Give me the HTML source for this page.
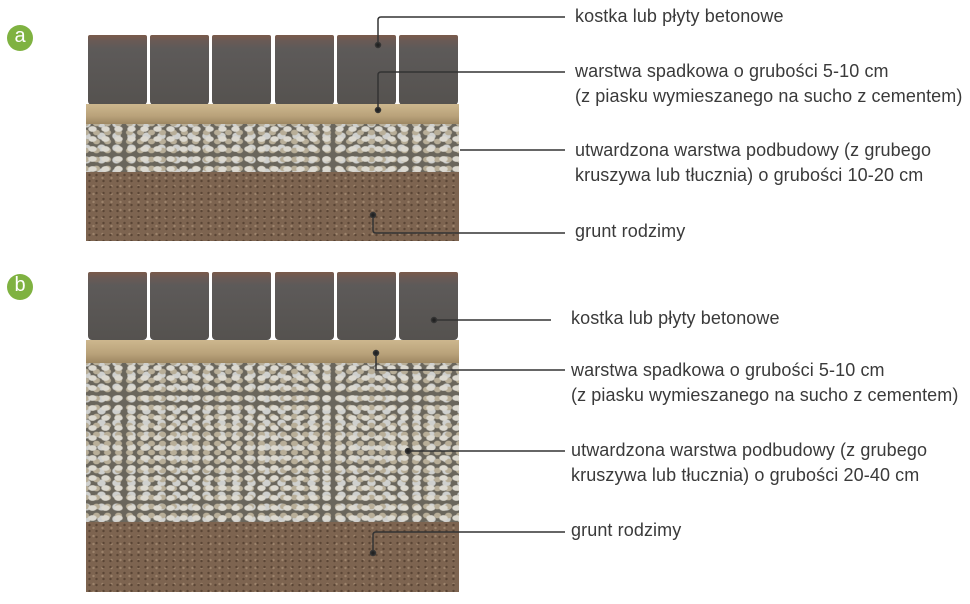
<!DOCTYPE html>
<html><head><meta charset="utf-8"><style>
body{margin:0;background:#fff;width:970px;height:604px;position:relative;overflow:hidden;font-family:"Liberation Sans",sans-serif}
.badge{position:absolute;width:26px;height:26px;border-radius:50%;background:#7fb241;color:#fff;font-size:20px;line-height:23px;text-align:center}
.pav{position:absolute;width:59px;border-radius:2px 2px 4px 4px;background:linear-gradient(#7a5a4a 0,#6a5a55 8%,#5d5a59 20%,#55524f 100%)}
.sand{position:absolute;left:86px;width:373px;background:linear-gradient(#cdb78e,#b9a27a 60%,#9d8762)}
.grav{position:absolute;left:86px;width:373px;background-color:#6a665c;
background-image:radial-gradient(ellipse 6px 4px,#dcd9d0 60%,transparent 80%),radial-gradient(ellipse 5px 4px,#b8ae98 60%,transparent 80%),radial-gradient(ellipse 6px 5px,#cfd0ce 60%,transparent 80%);
background-size:13px 10px,11px 9px,15px 12px;background-position:0 0,5px 4px,8px 6px}
.soil{position:absolute;left:86px;width:373px;background-color:#7d6450;
background-image:radial-gradient(circle 2px,#5a4535 50%,transparent 70%),radial-gradient(circle 2px,#9c836c 50%,transparent 70%);background-size:7px 6px,9px 8px;background-position:0 0,3px 2px}
.t{position:absolute;font-size:18px;color:#3a3a3a;line-height:25px;white-space:nowrap;letter-spacing:0.1px}
svg{position:absolute;left:0;top:0}
</style></head><body>
<div class="badge" style="left:7px;top:25px">a</div>
<div class="badge" style="left:7px;top:274px">b</div>

<div class="pav" style="left:88px;top:35px;height:70px"></div>
<div class="pav" style="left:150px;top:35px;height:70px"></div>
<div class="pav" style="left:212px;top:35px;height:70px"></div>
<div class="pav" style="left:275px;top:35px;height:70px"></div>
<div class="pav" style="left:337px;top:35px;height:70px"></div>
<div class="pav" style="left:399px;top:35px;height:70px"></div>
<div class="sand" style="top:104px;height:20px"></div>
<div class="grav" style="top:124px;height:48px"></div>
<div class="soil" style="top:172px;height:69px"></div>

<div class="pav" style="left:88px;top:272px;height:68px"></div>
<div class="pav" style="left:150px;top:272px;height:68px"></div>
<div class="pav" style="left:212px;top:272px;height:68px"></div>
<div class="pav" style="left:275px;top:272px;height:68px"></div>
<div class="pav" style="left:337px;top:272px;height:68px"></div>
<div class="pav" style="left:399px;top:272px;height:68px"></div>
<div class="sand" style="top:340px;height:23px"></div>
<div class="grav" style="top:363px;height:159px"></div>
<div class="soil" style="top:522px;height:70px"></div>

<svg width="970" height="604" fill="none" stroke="#333" stroke-width="1.5">
<path d="M378 45V20q0-3 3-3H565"/><circle cx="378" cy="45" r="2.5" fill="#222"/>
<path d="M378 110V75q0-3 3-3H565"/><circle cx="378" cy="110" r="2.5" fill="#222"/>
<path d="M460 150H565"/>
<path d="M373 215V230q0 3 3 3H565"/><circle cx="373" cy="215" r="2.5" fill="#222"/>
<path d="M434 320H551"/><circle cx="434" cy="320" r="2.5" fill="#222"/>
<path d="M376 353V370H565"/><circle cx="376" cy="353" r="2.5" fill="#222"/>
<path d="M408 451H565"/><circle cx="408" cy="451" r="2.5" fill="#222"/>
<path d="M373 553V535q0-3 3-3H565"/><circle cx="373" cy="553" r="2.5" fill="#222"/>
</svg>

<div class="t" style="left:575px;top:4px">kostka lub płyty betonowe</div>
<div class="t" style="left:575px;top:59px">warstwa spadkowa o grubości 5-10 cm<br>(z piasku wymieszanego na sucho z cementem)</div>
<div class="t" style="left:575px;top:138px">utwardzona warstwa podbudowy (z grubego<br>kruszywa lub tłucznia) o grubości 10-20 cm</div>
<div class="t" style="left:575px;top:219px">grunt rodzimy</div>

<div class="t" style="left:571px;top:306px">kostka lub płyty betonowe</div>
<div class="t" style="left:571px;top:358px">warstwa spadkowa o grubości 5-10 cm<br>(z piasku wymieszanego na sucho z cementem)</div>
<div class="t" style="left:571px;top:438px">utwardzona warstwa podbudowy (z grubego<br>kruszywa lub tłucznia) o grubości 20-40 cm</div>
<div class="t" style="left:571px;top:518px">grunt rodzimy</div>
</body></html>
